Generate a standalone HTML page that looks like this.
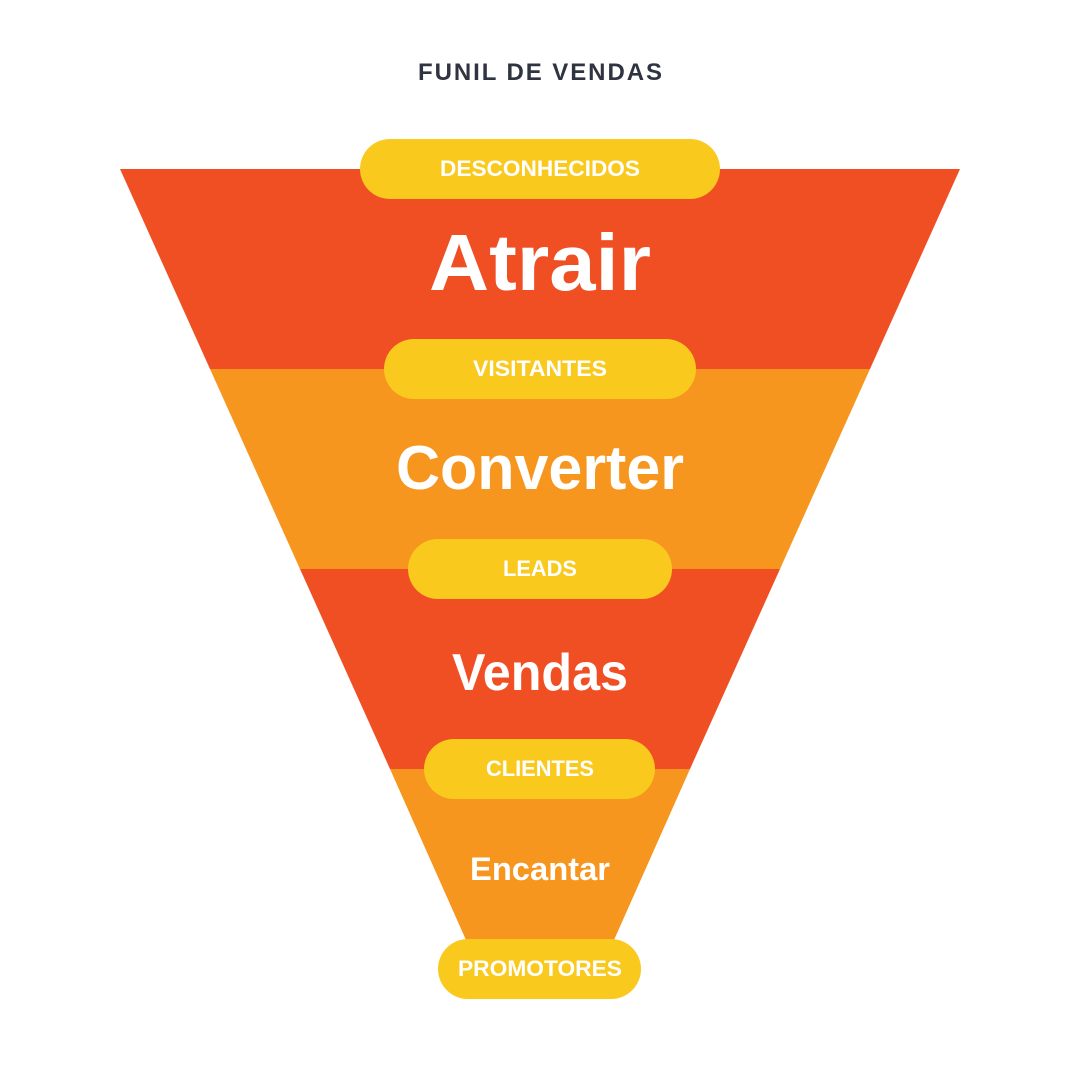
<!DOCTYPE html>
<html><head><meta charset="utf-8"><style>
html,body{margin:0;padding:0;background:#fff;}
svg{display:block;}
text{font-family:"Liberation Sans",sans-serif;font-weight:bold;}
</style></head><body>
<svg width="1080" height="1080" viewBox="0 0 1080 1080">
<rect width="1080" height="1080" fill="#fff"/>
<text x="540" y="80" text-anchor="middle" font-size="24" fill="#2f3540" textLength="244" lengthAdjust="spacing">FUNIL DE VENDAS</text>
<polygon points="120,169 960,169 870,369 210,369" fill="#F04F24"/>
<polygon points="210,369 870,369 780,569 300,569" fill="#F7961F"/>
<polygon points="300,569 780,569 690,769 390,769" fill="#F04F24"/>
<polygon points="390,769 690,769 614,940 466,940" fill="#F7961F"/>
<g fill="#F9C91E">
<rect x="360" y="139" width="360" height="60" rx="30"/>
<rect x="384" y="339" width="312" height="60" rx="30"/>
<rect x="408" y="539" width="264" height="60" rx="30"/>
<rect x="424" y="739" width="231" height="60" rx="30"/>
<rect x="438" y="939" width="203" height="60" rx="30"/>
</g>
<g fill="#fff" text-anchor="middle" font-size="22">
<text x="540" y="176" textLength="200" lengthAdjust="spacingAndGlyphs">DESCONHECIDOS</text>
<text x="540" y="376" textLength="134" lengthAdjust="spacingAndGlyphs">VISITANTES</text>
<text x="540" y="576" textLength="74" lengthAdjust="spacingAndGlyphs">LEADS</text>
<text x="540" y="776" textLength="108" lengthAdjust="spacingAndGlyphs">CLIENTES</text>
<text x="540" y="976" textLength="164" lengthAdjust="spacingAndGlyphs">PROMOTORES</text>
<text x="540" y="290" font-size="80" textLength="222" lengthAdjust="spacingAndGlyphs">Atrair</text>
<text x="540" y="489" font-size="62" textLength="288" lengthAdjust="spacingAndGlyphs">Converter</text>
<text x="540" y="690" font-size="52" textLength="176" lengthAdjust="spacingAndGlyphs">Vendas</text>
<text x="540" y="880" font-size="32" textLength="140" lengthAdjust="spacingAndGlyphs">Encantar</text>
</g>
</svg>
</body></html>
